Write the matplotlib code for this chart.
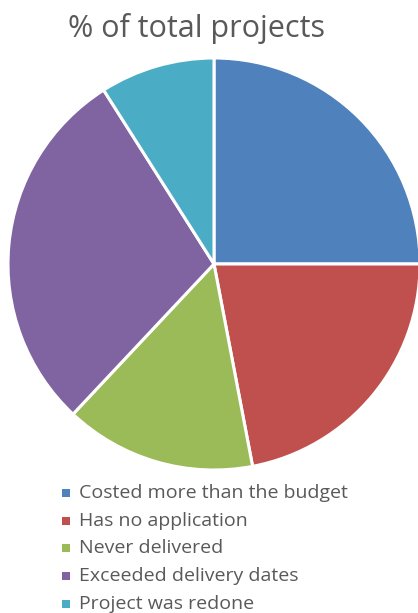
import matplotlib.pyplot as plt
from matplotlib.patches import Rectangle

# Data
labels = ["Costed more than the budget", "Has no application", "Never delivered",
          "Exceeded delivery dates", "Project was redone"]
values = [25, 22, 15, 29, 9]
colors = ["#4F81BD", "#C0504D", "#9BBB59", "#8064A2", "#4BACC6"]

W, H = 418, 613
fig = plt.figure(figsize=(W / 100, H / 100), dpi=100)

# Pie axes: center ~(214, 264) px, radius ~206 px
cx, cy, r = 214, 264, 206
ax = fig.add_axes([(cx - r) / W, (H - cy - r) / H, 2 * r / W, 2 * r / H])
ax.pie(values, colors=colors, startangle=90, counterclock=False, radius=1,
       wedgeprops=dict(edgecolor="white", linewidth=2.2))
ax.set_xlim(-1, 1)
ax.set_ylim(-1, 1)
ax.set_aspect("equal")
ax.axis("off")

# Title
fig.text(196 / W, 1 - 29 / H, "% of total projects", ha="center", va="center",
         fontsize=22, color="#595959", family="Open Sans")

# Legend
y0, dy = 493, 27.7
for i, (lab, col) in enumerate(zip(labels, colors)):
    y = y0 + i * dy
    fig.patches.append(Rectangle((62 / W, 1 - (y + 4) / H), 8 / W, 8 / H,
                                 transform=fig.transFigure, facecolor=col,
                                 edgecolor="none"))
    fig.text(79 / W, 1 - y / H, lab, ha="left", va="center",
             fontsize=14, color="#595959", family="Open Sans")

fig.savefig("out.png", dpi=100, facecolor="white")
